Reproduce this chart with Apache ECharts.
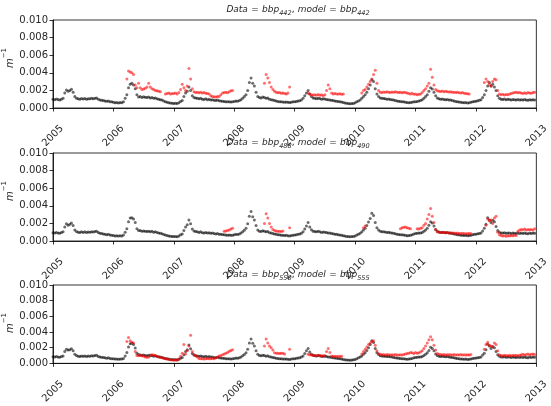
<!DOCTYPE html>
<html>
<head>
<meta charset="utf-8">
<script src="https://cdn.jsdelivr.net/npm/echarts@6/dist/echarts.min.js"></script>
<style>
  html, body { margin: 0; padding: 0; background: #fff; }
  #chart { width: 551px; height: 406px; }
</style>
</head>
<body>
<div id="chart"></div>
<script>
// Backscattering time series, 2005-2013: satellite data (black) vs model (red).
// Values are in units of 1e-5 m^-1, three samples per month (days ~1, 11, 21),
// one row per year. "_" marks days without a model value.
const _ = null;
const START_YEAR = 2005;
const SAMPLES_PER_YEAR = 36;
const VALUE_UNIT = 1e-5;

const yearTicks = [2005, 2006, 2007, 2008, 2009, 2010, 2011, 2012, 2013];
const valueTicks = [0.000, 0.002, 0.004, 0.006, 0.008, 0.010];

const bbp442Data = [
  100,95,102, 98,92,100, 110,170,205, 190,200,212, 180,130,112, 105,100,108, 102,108,100, 106,104,110, 106,112,115, 100,92,88, 85,80,76, 80,72,70,
  65,60,62, 58,63,60, 70,110,150, 230,270,280, 260,220,150, 125,130,120, 128,122,118, 125,115,120, 110,115,105, 100,95,90, 80,72,65, 60,58,55,
  52,55,50, 60,75,85, 130,170,190, 240,200,140, 120,115,110, 105,110,100, 98,105,95, 100,92,95, 88,85,90, 82,80,78, 75,72,70, 72,68,70,
  75,80,78, 85,95,110, 130,150,200, 290,340,280, 250,180,130, 120,115,125, 120,110,115, 100,95,90, 85,80,75, 72,70,68, 65,68,64, 62,66,70,
  72,75,80, 82,90,110, 140,170,200, 160,130,115, 110,105,112, 108,100,105, 102,98,95, 92,88,85, 80,78,75, 70,68,62, 58,55,50, 48,50,52,
  60,70,80, 90,110,130, 150,180,220, 260,320,300, 220,160,130, 115,110,108, 105,100,102, 98,95,90, 85,80,78, 75,72,70, 65,62,60, 62,65,70,
  72,75,80, 85,95,110, 130,150,190, 230,215,180, 140,115,105, 100,102,98, 95,98,92, 90,85,80, 75,70,68, 65,62,60, 62,58,60, 65,70,75,
  78,82,88, 95,120,150, 200,250,290, 250,270,240, 200,140,110, 100,98,102, 95,100,97, 92,98,95, 90,96,92, 95,90,98, 92,88,95, 90,95,92
];

const bbp442Model = [
  _,_,_, _,_,_, _,_,_, _,_,_, _,_,_, _,_,_, _,_,_, _,_,_, _,_,_, _,_,_, _,_,_, _,_,_,
  _,_,_, _,_,_, _,_,330, 420,410,400, 380,260,230, 280,230,210, 215,225,240, 280,240,220, 210,200,195, 190,185,_, _,160,165, 170,160,165,
  165,170,160, 175,210,270, 230,200,250, 450,330,220, 185,175,178, 172,180,170, 175,168,165, 160,140,130, 128,125,130, 132,150,170, 175,180,172, 185,195,200,
  _,_,_, _,_,_, _,_,_, _,_,_, _,_,_, _,_,_, 280,380,340, 290,240,210, 190,180,172, 175,168,170, 165,160,170, 240,_,_,
  _,_,_, _,_,_, _,_,170, 160,150,148, 150,145,152, 145,150,140, 150,200,260, 220,170,160, 165,158,160, 162,155,160, _,_,_, _,_,_,
  _,_,_, _,170,200, 210,240,270, 300,330,380, 430,280,200, 180,175,182, 178,185,180, 176,182,178, 185,180,175, 178,172,180, 175,170,165, 160,168,155,
  158,150,155, 160,175,200, 220,250,280, 440,350,260, 210,195,190, 188,192,185, 190,186,182, 185,180,178, 175,180,172, 170,175,168, 165,162,160, _,_,_,
  _,_,_, _,_,290, 330,300,270, 250,300,330, 320,200,160, 150,155,148, 152,150,158, 165,170,175, 178,172,175, 170,165,172, 165,175,170, 168,175,180
];

const bbp488Data = [
  95,90,98, 92,88,96, 105,160,195, 180,190,205, 175,125,108, 100,96,104, 98,104,96, 102,100,106, 102,108,110, 96,88,84, 80,76,72, 76,68,66,
  62,58,60, 56,60,58, 68,100,140, 220,260,265, 250,210,140, 120,118,112, 115,110,108, 112,105,110, 100,105,96, 92,88,82, 74,68,62, 58,55,52,
  50,52,48, 56,70,80, 120,160,185, 240,195,135, 115,108,104, 98,104,95, 92,98,90, 94,88,90, 84,80,86, 78,76,74, 72,68,66, 68,64,66,
  70,76,74, 80,90,105, 122,145,195, 280,335,275, 240,175,125, 112,108,116, 112,104,108, 95,90,86, 80,76,72, 70,66,64, 62,64,60, 58,62,66,
  68,72,76, 80,88,105, 135,170,210, 160,128,112, 108,104,110, 106,98,102, 100,96,92, 90,86,82, 78,76,72, 68,64,60, 56,52,50, 48,50,52,
  58,68,78, 88,105,125, 145,175,215, 255,315,290, 210,150,125, 110,106,104, 102,98,100, 95,92,88, 82,78,75, 72,70,68, 64,60,62, 66,70,80,
  84,88,90, 92,98,110, 125,145,180, 220,205,170, 130,110,102, 98,100,96, 94,96,90, 88,84,80, 76,72,70, 66,64,62, 64,60,62, 66,72,76,
  78,82,86, 92,115,145, 190,265,240, 210,235,220, 165,120,100, 92,90,94, 88,92,90, 86,92,88, 84,90,86, 90,85,92, 86,82,90, 85,90,88
];

const bbp490Model = [
  _,_,_, _,_,_, _,_,_, _,_,_, _,_,_, _,_,_, _,_,_, _,_,_, _,_,_, _,_,_, _,_,_, _,_,_,
  _,_,_, _,_,_, _,_,_, _,_,_, _,_,_, _,_,_, _,_,_, _,_,_, _,_,_, _,_,_, _,_,_, _,_,_,
  _,_,_, _,_,_, _,_,_, _,_,_, _,_,_, _,_,_, _,_,_, _,_,_, _,_,_, _,_,_, 110,115,120, 125,135,145,
  _,_,_, _,_,_, _,_,_, _,_,_, _,_,_, _,_,_, 200,310,260, 200,160,130, 120,115,110, 112,108,115, _,_,_, 150,_,_,
  _,_,_, _,_,_, _,_,_, _,_,_, _,_,_, _,_,_, _,_,_, _,_,_, _,_,_, _,_,_, _,_,_, _,_,_,
  _,_,_, _,_,150, 170,_,_, _,_,_, _,_,_, _,_,_, _,_,_, _,_,_, _,_,_, 140,150,155, 160,150,145, 140,_,_,
  _,140,135, 145,150,180, 200,250,300, 370,280,210, 130,105,100, 98,96,100, 95,98,92, 94,90,92, 88,90,86, 85,88,84, 82,86,84, 85,_,_,
  _,_,_, _,_,_, 180,250,230, 240,200,260, 280,100,70, 62,58,60, 55,60,58, 62,60,65, 62,110,125, 130,128,135, 125,130,128, 132,125,140
];

const bbp550Data = [
  85,80,88, 82,78,86, 95,150,180, 170,175,185, 160,115,100, 92,88,95, 90,95,88, 94,92,98, 95,100,102, 88,82,78, 74,70,66, 70,62,60,
  58,55,56, 52,56,55, 62,95,140, 210,250,255, 240,195,130, 112,108,104, 106,100,98, 104,96,100, 92,96,88, 84,80,76, 68,62,58, 54,50,48,
  46,48,44, 52,64,74, 110,150,175, 235,185,125, 105,98,94, 90,95,86, 84,90,82, 86,80,82, 76,72,78, 70,68,66, 64,60,58, 60,56,58,
  62,68,66, 72,82,96, 112,135,180, 260,310,255, 220,160,115, 100,96,104, 100,92,96, 85,80,76, 70,66,62, 60,58,56, 54,56,52, 50,54,58,
  60,64,68, 72,80,95, 125,160,190, 145,116,102, 98,94,100, 96,88,92, 90,86,82, 80,76,72, 68,66,62, 58,55,50, 46,44,42, 40,42,45,
  50,60,70, 80,95,115, 135,165,200, 240,290,265, 190,135,112, 98,95,92, 90,86,88, 84,80,76, 72,68,65, 62,60,58, 55,52,54, 58,62,70,
  74,78,80, 82,88,100, 115,135,165, 205,190,160, 120,100,92, 88,90,86, 84,86,80, 78,74,70, 66,62,60, 56,54,52, 54,50,52, 56,62,66,
  68,72,76, 82,105,130, 175,245,220, 190,215,200, 150,110,90, 82,80,84, 78,82,80, 76,82,78, 74,80,76, 80,75,82, 76,72,80, 75,80,78
];

const bbp555Model = [
  _,_,_, _,_,_, _,_,_, _,_,_, _,_,_, _,_,_, _,_,_, _,_,_, _,_,_, _,_,_, _,_,_, _,_,_,
  _,_,_, _,_,_, _,_,280, 330,290,270, 260,150,100, 98,102,96, 90,82,78, 80,105,110, 108,100,90, 80,75,70, 65,60,55, 50,45,42,
  42,40,45, 55,90,130, 240,120,160, 220,360,150, 110,100,80, 62,58,60, 55,58,62, 60,58,62, 60,70,80, 95,100,110, 120,130,140, 155,165,175,
  _,_,_, _,_,_, _,_,_, _,_,_, _,_,_, _,_,_, 220,310,260, 220,200,170, 135,128,130, 125,130,128, 120,_,_, 180,_,_,
  _,_,_, _,_,_, _,_,115, 110,105,102, 100,98,102, 96,100,95, 100,150,190, 140,95,92, 90,88,92, 88,90,_, _,_,_, _,_,_,
  _,_,_, _,120,150, 180,210,240, 260,280,290, 230,160,125, 115,110,112, 108,112,110, 106,110,108, 112,108,105, 110,106,112, 118,125,130, 140,135,125,
  140,130,135, 145,160,190, 220,260,300, 340,300,230, 170,125,115, 112,110,114, 108,112,110, 110,108,112, 106,110,108, 112,108,110, 105,110,108, 112,_,_,
  _,_,_, _,_,180, 240,270,230, 220,210,260, 240,160,110, 100,98,102, 100,96,102, 98,104,100, 102,98,104, 110,115,108, 112,118,110, 115,120,112
];

// Panel titles: [data band, model band]
const panelBands = [['442', '442'], ['488', '490'], ['550', '555']];
const panelSeries = [
  [bbp442Data, bbp442Model],
  [bbp488Data, bbp490Model],
  [bbp550Data, bbp555Model]
];

// Convert a sample row into [decimal year, m^-1] points, skipping gaps
function toPoints(values) {
  const pts = [];
  values.forEach(function (v, i) {
    if (v !== null) pts.push([START_YEAR + i / SAMPLES_PER_YEAR, v * VALUE_UNIT]);
  });
  return pts;
}

const FONT = 'DejaVu Sans';
const TEXT_COLOR = '#262626';
const panelTops = [20, 153, 285];
const PANEL_HEIGHT = 88;
const PLOT_LEFT = 53;
const PLOT_RIGHT = 8;

const grids = [], xAxes = [], yAxes = [], series = [], graphics = [];

panelTops.forEach(function (top, k) {
  grids.push({
    left: PLOT_LEFT, right: PLOT_RIGHT, top: top, height: PANEL_HEIGHT,
    show: true, borderColor: '#000', borderWidth: 0.8, backgroundColor: 'transparent'
  });
  xAxes.push({
    type: 'value', gridIndex: k,
    min: yearTicks[0], max: yearTicks[yearTicks.length - 1], interval: 1,
    axisLine: { show: true, lineStyle: { color: '#000', width: 0.8 } },
    axisTick: { show: true, length: 3.5, lineStyle: { color: '#000', width: 0.8 } },
    splitLine: { show: false },
    axisLabel: {
      rotate: 45, align: 'center', verticalAlign: 'middle', margin: 28,
      fontFamily: FONT, fontSize: 10, color: TEXT_COLOR,
      formatter: function (v) { return String(Math.round(v)); }
    }
  });
  yAxes.push({
    type: 'value', gridIndex: k,
    min: valueTicks[0], max: valueTicks[valueTicks.length - 1], interval: 0.002,
    axisLine: { show: true, lineStyle: { color: '#000', width: 0.8 } },
    axisTick: { show: true, length: 3.5, lineStyle: { color: '#000', width: 0.8 } },
    splitLine: { show: false },
    axisLabel: {
      margin: 5, fontFamily: FONT, fontSize: 10, color: TEXT_COLOR,
      formatter: function (v) { return v.toFixed(3); }
    }
  });

  const pair = panelSeries[k];
  series.push({
    type: 'scatter', xAxisIndex: k, yAxisIndex: k,
    data: toPoints(pair[0]), symbol: 'circle', symbolSize: 3,
    itemStyle: { color: 'rgba(0,0,0,0.72)' }, silent: true, animation: false
  });
  series.push({
    type: 'scatter', xAxisIndex: k, yAxisIndex: k,
    data: toPoints(pair[1]), symbol: 'circle', symbolSize: 3,
    itemStyle: { color: 'rgba(255,0,0,0.7)' }, silent: true, animation: false
  });

  const b = panelBands[k];
  // panel title (mathtext-style italics with subscripts)
  graphics.push({
    type: 'text',
    x: PLOT_LEFT + (551 - PLOT_LEFT - PLOT_RIGHT) / 2,
    y: top - 10,
    style: {
      text: '{i|Data} {n|=} {i|bbp}{sub|' + b[0] + '}{n|,} {i|model} {n|=} {i|bbp}{sub|' + b[1] + '}',
      align: 'center', verticalAlign: 'middle',
      rich: {
        i: { fontFamily: FONT, fontStyle: 'italic', fontSize: 9, fill: TEXT_COLOR, lineHeight: 14, verticalAlign: 'middle' },
        n: { fontFamily: FONT, fontSize: 9, fill: TEXT_COLOR, lineHeight: 14, verticalAlign: 'middle' },
        sub: { fontFamily: FONT, fontStyle: 'italic', fontSize: 6.5, fill: TEXT_COLOR, lineHeight: 7, verticalAlign: 'bottom' }
      }
    }
  });
  // y-axis unit label, read bottom to top
  graphics.push({
    type: 'text',
    x: 8, y: top + PANEL_HEIGHT / 2 - 6,
    rotation: Math.PI / 2,
    style: {
      text: '{m|m}{s|\u22121}',
      align: 'center', verticalAlign: 'middle',
      rich: {
        m: { fontFamily: FONT, fontStyle: 'italic', fontSize: 10, fill: TEXT_COLOR, lineHeight: 14, verticalAlign: 'bottom' },
        s: { fontFamily: FONT, fontSize: 7, fill: TEXT_COLOR, lineHeight: 14, verticalAlign: 'top' }
      }
    }
  });
});

const chart = echarts.init(document.getElementById('chart'), null, { renderer: 'canvas' });
chart.setOption({
  animation: false,
  backgroundColor: '#fff',
  grid: grids,
  xAxis: xAxes,
  yAxis: yAxes,
  series: series,
  graphic: graphics
});
</script>
</body>
</html>
